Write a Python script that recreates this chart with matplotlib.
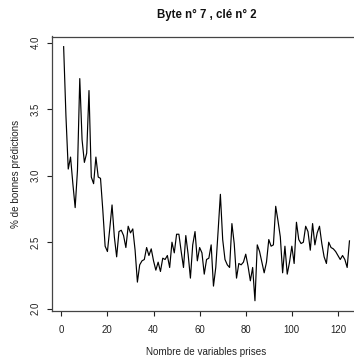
import numpy as np
import matplotlib
matplotlib.use("Agg")
import matplotlib.pyplot as plt

# Prediction accuracy (%) versus number of variables used
n_vars = list(range(1, 126))
accuracy = [
    3.97, 3.45, 3.05, 3.14, 2.94, 2.76, 3.04, 3.73, 3.27, 3.10,
    3.17, 3.64, 2.99, 2.94, 3.14, 2.99, 2.98, 2.74, 2.47, 2.43,
    2.60, 2.78, 2.54, 2.39, 2.58, 2.59, 2.55, 2.46, 2.62, 2.57,
    2.60, 2.44, 2.20, 2.33, 2.36, 2.37, 2.46, 2.40, 2.45, 2.36,
    2.29, 2.35, 2.28, 2.38, 2.37, 2.40, 2.31, 2.50, 2.42, 2.56,
    2.56, 2.43, 2.31, 2.55, 2.41, 2.23, 2.48, 2.58, 2.36, 2.46,
    2.42, 2.26, 2.37, 2.38, 2.48, 2.17, 2.31, 2.58, 2.86, 2.52,
    2.37, 2.33, 2.31, 2.64, 2.49, 2.23, 2.34, 2.33, 2.35, 2.41,
    2.32, 2.21, 2.31, 2.06, 2.48, 2.43, 2.35, 2.27, 2.35, 2.52,
    2.47, 2.48, 2.77, 2.66, 2.54, 2.27, 2.47, 2.26, 2.35, 2.47,
    2.34, 2.65, 2.52, 2.49, 2.50, 2.62, 2.58, 2.44, 2.64, 2.48,
    2.57, 2.62, 2.49, 2.39, 2.34, 2.50, 2.46, 2.45, 2.43, 2.40,
    2.37, 2.40, 2.37, 2.31, 2.51,
]
x_ticks = [0, 20, 40, 60, 80, 100, 120]
y_ticks = [2.0, 2.5, 3.0, 3.5, 4.0]
y_tick_labels = ["2.0", "2.5", "3.0", "3.5", "4.0"]

title = "Byte n° 7 , clé n° 2"
xlabel = "Nombre de variables prises"
ylabel = "% de bonnes prédictions"

plt.rcParams["font.family"] = ["Liberation Sans", "DejaVu Sans"]

W, H = 354, 358
fig = plt.figure(figsize=(W / 100, H / 100), dpi=100)

# plot region in pixels (extends slightly past the right border)
left_px, right_px = 52.2, 360.9
top_px, bottom_px = 36.5, 310.9
ax = fig.add_axes([left_px / W, 1 - bottom_px / H,
                   (right_px - left_px) / W, (bottom_px - top_px) / H])

ax.plot(n_vars, accuracy, color="black", linewidth=0.85)

# R-style 4% padding around the data range
def padded(lo, hi):
    r = hi - lo
    return lo - 0.04 * r, hi + 0.04 * r

ax.set_xlim(*padded(min(n_vars), max(n_vars)))
ax.set_ylim(*padded(min(accuracy), max(accuracy)))

ax.set_xticks(x_ticks)
ax.set_yticks(y_ticks)
ax.set_yticklabels(y_tick_labels, rotation=90, va="center")
ax.tick_params(axis="both", direction="out", length=3.6, width=0.8,
               labelsize=6.9, colors="#222222")
ax.tick_params(axis="x", pad=6.3)
ax.tick_params(axis="y", pad=4.8)
for s in ax.spines.values():
    s.set_color("#444444")
    s.set_linewidth(0.9)

fig.text((left_px + right_px) / 2 / W, 1 - 15 / H, title, ha="center",
         va="center", fontsize=8.3, fontweight="bold", color="#111111")
fig.text((left_px + right_px) / 2 / W, 1 - 352 / H, xlabel, ha="center",
         va="center", fontsize=7.1, color="#222222")
fig.text(16 / W, 1 - ((top_px + bottom_px) / 2) / H, ylabel, ha="center",
         va="center", rotation=90, fontsize=7.1, color="#222222")

fig.savefig("out.png", dpi=100)
